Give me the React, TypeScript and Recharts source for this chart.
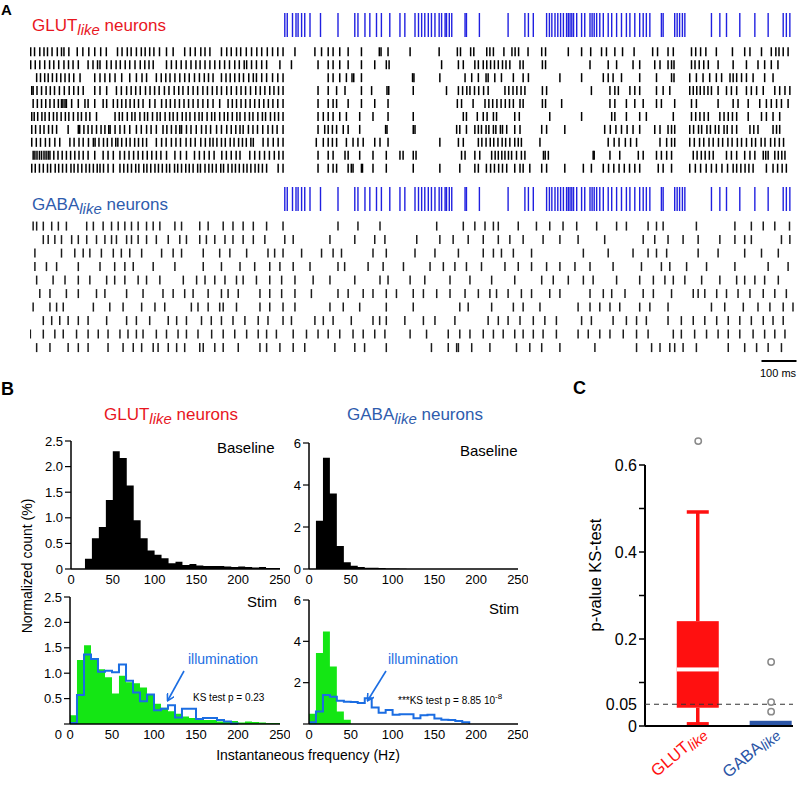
import React from "react";
import {
  ScatterChart,
  Scatter,
  XAxis,
  YAxis,
  ReferenceLine,
  ComposedChart,
  Area,
  Line,
  Bar,
} from "recharts";

const FONT = '"Liberation Sans", Arial, sans-serif';
const RED = "#e8161e";
const GABA_BLUE = "#2f5cad";
const STIM_BLUE = "#2020e0";
const ILLUM = "#1b6de2";
const GREEN = "#14e614";

// ---------- Panel A: light pulses and spike times (ms) ----------
const stimPulses = [
  728, 735, 750, 760, 766, 776, 785, 800, 830, 880, 928, 937, 957, 971, 990, 1004, 1028, 1057,
  1071, 1100, 1110, 1119, 1128, 1138, 1147, 1157, 1169, 1176, 1186, 1190, 1198, 1205, 1243, 1247,
  1284, 1366, 1414, 1424, 1438, 1476, 1484, 1491, 1500, 1508, 1516, 1524, 1533, 1538, 1543, 1548,
  1553, 1562, 1576, 1585, 1600, 1606, 1612, 1619, 1628, 1638, 1652, 1662, 1676, 1690, 1704, 1714,
  1728, 1742, 1752, 1761, 1771, 1804, 1809, 1842, 1849, 1856, 1864, 1871, 1947, 1971, 1990, 2028,
  2071, 2109, 2152, 2161, 2171,
];

const glutRow1 = [
  2, 13, 28, 40, 50, 63, 78, 90, 97, 111, 135, 151, 168, 185, 202, 218, 250, 263, 278, 289, 304,
  318, 329, 342, 354, 370, 390, 409, 442, 458, 472, 488, 500, 514, 547, 562, 575, 590, 602, 618,
  633, 648, 662, 678, 693, 708, 723, 757, 814, 833, 852, 866, 885, 909, 947, 998, 1003, 1023, 1086,
  1169, 1221, 1230, 1259, 1268, 1305, 1314, 1324, 1354, 1377, 1386, 1396, 1423, 1462, 1473, 1538,
  1576, 1602, 1633, 1647, 1671, 1693, 1726, 1779, 1793, 1823, 1838, 1890, 1902, 1916, 1931, 1961,
  2007, 2042, 2057, 2090, 2118, 2131, 2140, 2152, 2166,
];
const glutRow2 = [
  2, 15, 28, 42, 56, 68, 82, 97, 110, 123, 138, 166, 180, 193, 200, 219, 232, 246, 258, 272, 285,
  300, 315, 328, 340, 352, 390, 404, 418, 432, 446, 460, 474, 486, 500, 514, 528, 542, 556, 570,
  585, 598, 612, 619, 633, 647, 662, 676, 714, 747, 823, 852, 866, 885, 909, 947, 985, 1018, 1026,
  1176, 1224, 1238, 1271, 1281, 1295, 1305, 1316, 1327, 1338, 1350, 1360, 1371, 1400, 1409, 1464,
  1473, 1600, 1652, 1676, 1723, 1742, 1785, 1800, 1823, 1833, 1840, 1890, 1900, 1912, 1925, 1938,
  1966, 2009, 2047, 2080, 2099, 2118, 2137,
];
const glutRow3 = [
  19, 30, 42, 52, 64, 76, 88, 100, 112, 125, 143, 185, 200, 214, 228, 243, 262, 285, 304, 320, 333,
  361, 375, 388, 400, 414, 428, 442, 455, 470, 484, 498, 510, 523, 547, 560, 572, 585, 598, 610,
  625, 638, 647, 662, 676, 693, 708, 723, 852, 866, 885, 904, 920, 925, 947, 1093, 1097, 1171, 1243,
  1262, 1281, 1303, 1309, 1328, 1347, 1381, 1409, 1424, 1514, 1576, 1638, 1652, 1666, 1690, 1742,
  1790, 1833, 1840, 1885, 1904, 1923, 1942, 1961, 1976, 2000, 2009, 2019, 2033, 2047, 2066, 2099,
  2123,
];
const glutRow4 = [
  5, 9, 20, 33, 46, 58, 70, 84, 98, 112, 125, 138, 152, 185, 200, 219, 247, 261, 276, 289, 302, 315,
  330, 343, 356, 369, 384, 397, 412, 425, 437, 452, 466, 479, 494, 507, 521, 534, 547, 562, 575,
  590, 603, 616, 630, 645, 658, 671, 685, 697, 710, 723, 823, 852, 876, 900, 947, 976, 1020, 1025,
  1095, 1190, 1224, 1236, 1248, 1257, 1270, 1282, 1296, 1309, 1357, 1368, 1380, 1391, 1403, 1414,
  1464, 1476, 1604, 1657, 1671, 1681, 1714, 1728, 1742, 1790, 1809, 1828, 1885, 1895, 1905, 1915,
  1926, 1937, 1947, 1966, 1990, 2004, 2019, 2047, 2061, 2076, 2095, 2128, 2142, 2157, 2171,
];
const glutRow5 = [
  9, 21, 33, 45, 57, 69, 81, 90, 94, 100, 104, 119, 138, 157, 166, 185, 209, 219, 238, 250, 262,
  274, 286, 298, 310, 323, 342, 357, 376, 389, 401, 414, 427, 440, 453, 466, 480, 494, 508, 523,
  542, 566, 578, 590, 603, 616, 629, 642, 655, 668, 681, 694, 708, 723, 823, 852, 866, 876, 909,
  947, 985, 1023, 1221, 1233, 1266, 1300, 1311, 1322, 1334, 1346, 1358, 1370, 1381, 1400, 1409,
  1464, 1473, 1519, 1657, 1671, 1704, 1728, 1752, 1790, 1804, 1842, 1890, 1904, 1966, 2009, 2023,
  2052, 2085, 2104, 2118, 2133, 2147, 2166,
];
const glutRow6 = [
  5, 12, 22, 34, 43, 55, 67, 77, 89, 101, 111, 124, 137, 147, 160, 171, 190, 243, 255, 264, 278,
  291, 300, 314, 327, 336, 350, 363, 372, 386, 399, 409, 421, 435, 446, 457, 471, 483, 492, 506,
  519, 528, 542, 555, 565, 578, 591, 600, 614, 627, 637, 651, 664, 673, 687, 699, 710, 723, 823,
  838, 852, 866, 885, 904, 942, 980, 1023, 1095, 1238, 1247, 1278, 1295, 1306, 1324, 1333, 1385,
  1398, 1485, 1576, 1662, 1671, 1704, 1742, 1761, 1838, 1890, 1902, 1914, 1926, 1938, 1971, 1983,
  1995, 2007, 2019, 2052, 2090, 2104, 2123, 2142,
];
const glutRow7 = [
  5, 16, 29, 40, 53, 64, 76, 109, 138, 142, 154, 166, 177, 190, 203, 214, 225, 229, 243, 257, 270,
  285, 304, 318, 333, 346, 361, 380, 391, 404, 417, 428, 433, 447, 460, 475, 490, 503, 516, 533,
  547, 562, 575, 588, 600, 609, 624, 637, 650, 665, 680, 693, 706, 723, 823, 842, 852, 864, 876,
  895, 909, 942, 1016, 1020, 1095, 1100, 1219, 1228, 1247, 1271, 1281, 1290, 1303, 1311, 1324, 1331,
  1344, 1350, 1362, 1385, 1400, 1462, 1476, 1528, 1642, 1658, 1674, 1690, 1706, 1723, 1742, 1785,
  1800, 1823, 1833, 1842, 1885, 1896, 1910, 1919, 1934, 1944, 1958, 1968, 1983, 1992, 2006, 2019,
  2057, 2068, 2080, 2123, 2133, 2142,
];
const glutRow8 = [
  5, 18, 30, 44, 56, 71, 85, 114, 126, 140, 152, 167, 181, 186, 197, 210, 221, 234, 245, 251, 262,
  275, 286, 299, 310, 322, 333, 361, 376, 389, 404, 417, 430, 446, 459, 472, 488, 501, 514, 523,
  534, 547, 558, 572, 583, 596, 607, 618, 631, 638, 666, 680, 695, 709, 723, 818, 838, 852, 864,
  876, 904, 923, 937, 952, 985, 1000, 1023, 1171, 1224, 1238, 1281, 1291, 1303, 1315, 1325, 1337,
  1349, 1359, 1371, 1385, 1395, 1404, 1457, 1652, 1669, 1683, 1701, 1716, 1733, 1800, 1819, 1833,
  1842, 1885, 1898, 1913, 1925, 1940, 1952, 1967, 1979, 1994, 2006, 2021, 2033, 2047, 2062, 2073,
  2089, 2100, 2116, 2128, 2141, 2153,
];
const glutRow9 = [
  9, 14, 20, 27, 33, 40, 46, 52, 57, 68, 80, 92, 104, 116, 128, 140, 152, 166, 185, 209, 223, 238,
  257, 270, 283, 296, 309, 322, 335, 348, 361, 374, 390, 414, 430, 447, 470, 484, 498, 512, 526,
  548, 561, 575, 589, 600, 628, 642, 656, 670, 684, 698, 711, 723, 823, 852, 866, 900, 909, 942,
  980, 1018, 1057, 1066, 1095, 1103, 1233, 1243, 1271, 1285, 1319, 1329, 1338, 1348, 1357, 1367,
  1376, 1390, 1404, 1414, 1467, 1472, 1481, 1609, 1612, 1657, 1685, 1738, 1752, 1790, 1804, 1819,
  1833, 1895, 1906, 1918, 1929, 1941, 1952, 1990, 2004, 2019, 2042, 2057, 2071, 2095, 2102, 2109,
  2128, 2138, 2148, 2157,
];
const glutRow10 = [
  5, 15, 27, 38, 50, 59, 72, 82, 93, 104, 117, 126, 137, 148, 160, 170, 181, 192, 200, 210, 223,
  238, 257, 268, 279, 290, 302, 311, 325, 334, 345, 357, 367, 378, 390, 399, 413, 422, 433, 445,
  455, 466, 479, 487, 500, 511, 521, 532, 545, 553, 566, 577, 587, 598, 610, 620, 631, 643, 653,
  664, 676, 709, 723, 823, 852, 866, 876, 909, 918, 923, 947, 950, 980, 1018, 1095, 1171, 1228,
  1271, 1281, 1304, 1316, 1327, 1339, 1350, 1362, 1385, 1400, 1409, 1428, 1462, 1476, 1528, 1581,
  1604, 1638, 1653, 1668, 1683, 1698, 1713, 1728, 1742, 1795, 1809, 1833, 1885, 1901, 1916, 1932,
  1947, 1961, 1977, 1993, 2009, 2019, 2031, 2043, 2054, 2066, 2104, 2123, 2136, 2149, 2161,
];
const glutTrains = [
  glutRow1, glutRow2, glutRow3, glutRow4, glutRow5,
  glutRow6, glutRow7, glutRow8, glutRow9, glutRow10,
];

const gabaRow1 = [
  9, 19, 38, 62, 81, 104, 162, 181, 209, 233, 252, 271, 290, 309, 333, 352, 371, 414, 433, 485, 509,
  552, 580, 609, 638, 676, 723, 880, 937, 1000, 1162, 1238, 1271, 1300, 1324, 1338, 1395, 1447,
  1485, 1523, 1562, 1619, 1676, 1704, 1766, 1790, 1809, 1904, 2014, 2061, 2095, 2128, 2170,
];
const gabaRow2 = [
  38, 52, 71, 90, 119, 138, 162, 190, 214, 233, 247, 276, 290, 309, 333, 361, 395, 428, 447, 485,
  504, 528, 557, 580, 609, 638, 671, 728, 752, 857, 928, 985, 1014, 1105, 1171, 1209, 1252, 1295,
  1338, 1371, 1409, 1466, 1514, 1566, 1642, 1752, 1785, 1823, 1866, 1909, 1971, 2014, 2042, 2061,
  2147, 2171,
];
const gabaRow3 = [
  14, 90, 128, 152, 171, 204, 238, 261, 285, 319, 376, 409, 433, 495, 542, 571, 619, 680, 699, 723,
  776, 833, 866, 890, 980, 1018, 1100, 1157, 1224, 1295, 1324, 1347, 1381, 1433, 1581, 1652, 1723,
  1766, 1790, 1819, 1909, 1966, 2042, 2090, 2138,
];
const gabaRow4 = [
  14, 47, 76, 138, 200, 242, 271, 295, 352, 414, 495, 547, 600, 642, 685, 714, 752, 800, 880, 899,
  966, 1009, 1067, 1143, 1181, 1214, 1247, 1290, 1357, 1395, 1433, 1476, 1514, 1557, 1600, 1666,
  1747, 1804, 1828, 1876, 1933, 2014, 2109, 2166,
];
const gabaRow5 = [
  19, 66, 100, 138, 171, 219, 242, 271, 309, 333, 371, 438, 476, 500, 528, 557, 590, 609, 647, 685,
  719, 757, 809, 857, 928, 1000, 1023, 1086, 1128, 1200, 1257, 1319, 1385, 1462, 1495, 1538, 1581,
  1609, 1676, 1742, 1781, 1814, 1838, 1871, 1919, 1971, 2019, 2042, 2071, 2099, 2138,
];
const gabaRow6 = [
  28, 57, 104, 138, 190, 214, 276, 323, 380, 409, 442, 466, 509, 547, 566, 595, 657, 685, 719, 757,
  804, 880, 909, 952, 980, 1018, 1047, 1095, 1124, 1162, 1200, 1243, 1281, 1314, 1333, 1366, 1404,
  1433, 1485, 1514, 1600, 1638, 1662, 1700, 1752, 1781, 1833, 1895, 1909, 1928, 1962, 1990, 2023,
  2057, 2095, 2128, 2161,
];
const gabaRow7 = [
  9, 57, 76, 95, 181, 228, 266, 319, 357, 385, 461, 480, 509, 542, 552, 590, 657, 685, 723, 757,
  857, 895, 942, 1018, 1095, 1228, 1252, 1319, 1381, 1409, 1457, 1566, 1600, 1628, 1657, 1685,
  1742, 1771, 1823, 1947, 1985, 2038, 2080, 2114, 2152, 2180,
];
const gabaRow8 = [
  38, 62, 85, 109, 138, 166, 219, 276, 304, 342, 395, 419, 447, 490, 518, 547, 580, 614, 652, 680,
  723, 747, 814, 838, 866, 918, 980, 999, 1018, 1071, 1124, 1157, 1214, 1309, 1338, 1366, 1400,
  1438, 1471, 1504, 1576, 1604, 1666, 1704, 1733, 1761, 1823, 1861, 1895, 1928, 1962, 1995, 2028,
  2061, 2095, 2123, 2152,
];
const gabaRow9 = [
  1, 38, 71, 95, 133, 166, 195, 223, 257, 280, 304, 323, 361, 390, 423, 447, 480, 519, 552, 585,
  619, 652, 676, 704, 752, 790, 823, 852, 885, 923, 952, 985, 1014, 1086, 1133, 1195, 1228, 1257,
  1295, 1324, 1352, 1385, 1409, 1438, 1466, 1504, 1566, 1595, 1628, 1657, 1695, 1733, 1766, 1838,
  1861, 1899, 1933, 1966, 1995, 2028, 2066, 2099, 2128, 2157,
];
const gabaRow10 = [
  19, 57, 109, 138, 166, 223, 266, 295, 319, 352, 366, 395, 419, 442, 485, 495, 528, 552, 595, 657,
  676, 714, 752, 785, 871, 928, 956, 1018, 1147, 1195, 1219, 1224, 1262, 1314, 1390, 1428, 1462,
  1514, 1614, 1733, 1776, 1800, 1828, 1842, 1866, 1904, 1995, 2042, 2076, 2109, 2147,
];
const gabaTrains = [
  gabaRow1, gabaRow2, gabaRow3, gabaRow4, gabaRow5,
  gabaRow6, gabaRow7, gabaRow8, gabaRow9, gabaRow10,
];

// ---------- Panel B: histograms (% per 8.3 Hz bin) ----------
const hzEdges = [
  0, 8.3, 16.7, 25, 33.3, 41.7, 50, 58.3, 66.7, 75, 83.3, 91.7, 100, 108.3, 116.7, 125, 133.3,
  141.7, 150, 158.3, 166.7, 175, 183.3, 191.7, 200, 208.3, 216.7, 225, 233.3, 241.7, 250,
];
const glutBaseline = [
  0, 0, 0.2, 0.6, 0.82, 1.35, 2.3, 2.17, 1.63, 0.95, 0.6, 0.36, 0.28, 0.21, 0.11, 0.14, 0.08, 0.1,
  0.07, 0.06, 0.06, 0.06, 0.05, 0.04, 0.05, 0.04, 0.03, 0.04, 0.02, 0.02,
];
const glutStimCtrl = [
  0.17, 1.26, 1.55, 1.3, 1.08, 0.92, 0.6, 0.95, 0.82, 0.8, 0.72, 0.58, 0.4, 0.32, 0.25, 0.2, 0.15,
  0.12, 0.1, 0.08, 0.08, 0.05, 0.04, 0.06, 0.03, 0.05, 0.04, 0.03, 0.02, 0.02,
];
const glutStimIllum = [
  0.02, 0.57, 1.37, 1.28, 1.03, 1.05, 1.02, 1.17, 0.85, 0.62, 0.45, 0.58, 0.27, 0.3, 0.37, 0.13, 0.3,
  0.3, 0.1, 0.12, 0.12, 0.08, 0.05, 0.01, 0, null, null, null, null, null,
];
const gabaBaseline = [
  0, 2.3, 5.3, 3.6, 1.1, 0.32, 0.16, 0.1, 0.06, 0.06, 0.05, 0.02, 0.02, 0.01, 0, 0, 0, 0, 0, 0, 0,
  0, 0, 0, 0, 0, 0, 0, 0, 0,
];
const gabaStimCtrl = [
  0.5, 3.44, 4.47, 2.78, 0.6, 0.2, 0, 0, 0, 0, 0, 0, 0, 0, 0, 0, 0, 0, 0, 0, 0, 0, 0, 0, 0, 0, 0, 0,
  0, 0,
];
const gabaStimIllum = [
  0.08, 0.6, 1.4, 1.32, 1.12, 1.08, 1.07, 1.02, 1.25, 0.8, 0.55, 0.68, 0.45, 0.47, 0.47, 0.28, 0.42,
  0.45, 0.27, 0.2, 0.19, 0.15, 0.08, 0, null, null, null, null, null, null,
];

// ---------- Panel C: KS-test p-values ----------
const groupIds = [1, 2];
const groupNames = ["GLUT", "GABA"];
const groupColors = ["#ff1010", "#2b55a6"];
const q1s = [0.042, 0];
const medians = [0.13, null];
const q3s = [0.241, 0.012];
const whiskerLows = [0.005, 0];
const whiskerHighs = [0.492, 0.012];
const outlierGroup = [1, 2, 2, 2];
const outlierP = [0.655, 0.147, 0.055, 0.033];
const pTicks = [0, 0.05, 0.1, 0.2, 0.3, 0.4, 0.5, 0.6];
const pLabels = ["0", "0.05", "", "0.2", "", "0.4", "", "0.6"];

const spikeMark = (h: number, color: string, w: number) => (p: any) => (
  <line x1={p.cx} x2={p.cx} y1={p.cy - h / 2} y2={p.cy + h / 2} stroke={color} strokeWidth={w} />
);

function Raster({ trains, top, height, domain, h, color, w, children }: any) {
  const spikes = trains.flatMap((tr: number[], row: number) => tr.map((t) => ({ t, row })));
  return (
    <div style={{ position: "absolute", left: 30, top }}>
      <ScatterChart width={770} height={height} margin={{ top: 0, right: 0, bottom: 0, left: 0 }}>
        <XAxis type="number" dataKey="t" domain={[0, 2200]} hide />
        <YAxis type="number" dataKey="row" domain={domain} reversed hide />
        <Scatter data={spikes} shape={spikeMark(h, color, w)} isAnimationActive={false} />
        {children}
      </ScatterChart>
    </div>
  );
}

const yTick = (fmt: (v: number) => string, zeroShift: number) => (p: any) => {
  const v = p.payload.value;
  return (
    <text
      x={p.x}
      y={p.y + (v === 0 ? zeroShift : 0)}
      dy="0.36em"
      textAnchor="end"
      fontSize={13}
      fontFamily={FONT}
      fill="#000"
    >
      {fmt(v)}
    </text>
  );
};

const fmtGlut = (v: number) => (v === 0 ? "0" : v.toFixed(1));
const fmtGaba = (v: number) => String(v);
const fmtGabaNoZero = (v: number) => (v === 0 ? "" : String(v));

function Hist({ left, top, width, height, yMax, yTicks, fmt, zeroShift, fill, ctrl, illum }: any) {
  const rows = hzEdges.map((hz, i) => ({
    hz,
    ctrl: ctrl[i] ?? 0,
    illum: illum ? (i < illum.length ? illum[i] : null) : null,
  }));
  return (
    <div style={{ position: "absolute", left, top }}>
      <ComposedChart
        width={width}
        height={height}
        data={rows}
        margin={{ top: 11, right: 10, bottom: 0, left: 0 }}
      >
        <XAxis
          type="number"
          dataKey="hz"
          domain={[0, 250]}
          ticks={[0, 50, 100, 150, 200, 250]}
          interval={0}
          height={22}
          tickLine={false}
          tickSize={0}
          tickMargin={6}
          axisLine={{ stroke: "#000", strokeWidth: 1.5 }}
          tick={{ fontSize: 13, fill: "#000", fontFamily: FONT }}
        />
        <YAxis
          type="number"
          domain={[0, yMax]}
          ticks={yTicks}
          interval={0}
          width={51}
          tickSize={6}
          tickMargin={2}
          axisLine={{ stroke: "#000", strokeWidth: 1.5 }}
          tickLine={{ stroke: "#000", strokeWidth: 1.2 }}
          tick={yTick(fmt, zeroShift)}
        />
        <Area
          type="stepAfter"
          dataKey="ctrl"
          fill={fill}
          fillOpacity={1}
          stroke="none"
          isAnimationActive={false}
        />
        {illum && (
          <Line
            type="stepAfter"
            dataKey="illum"
            stroke={ILLUM}
            strokeWidth={2}
            dot={false}
            isAnimationActive={false}
          />
        )}
      </ComposedChart>
    </div>
  );
}

const BoxShape = (p: any) => {
  const { x, y, width, height, payload, index } = p;
  const [lo, hi] = payload.box;
  const k = height / (hi - lo);
  const py = (v: number) => y + (hi - v) * k;
  const cx = x + width / 2;
  const color = groupColors[index];
  return (
    <g>
      {payload.wHi > hi && (
        <g stroke={color} strokeWidth={3.5}>
          <line x1={cx} x2={cx} y1={y} y2={py(payload.wHi)} />
          <line x1={cx - 11} x2={cx + 11} y1={py(payload.wHi)} y2={py(payload.wHi)} />
        </g>
      )}
      {payload.wLo < lo && (
        <g stroke={color} strokeWidth={3.5}>
          <line x1={cx} x2={cx} y1={y + height} y2={py(payload.wLo)} />
          <line x1={cx - 11} x2={cx + 11} y1={py(payload.wLo)} y2={py(payload.wLo)} />
        </g>
      )}
      <rect x={x} y={y} width={width} height={height} fill={color} />
      {payload.median != null && (
        <rect x={x} y={py(payload.median) - 2} width={width} height={4} fill="#fff" />
      )}
    </g>
  );
};

const outlierMark = (p: any) => (
  <circle cx={p.cx} cy={p.cy} r={3.2} fill="#fff" stroke="#8a8a8a" strokeWidth={1.5} />
);

const pTick = (p: any) => {
  const v = p.payload.value;
  const i = pTicks.indexOf(v);
  return (
    <g>
      {v !== 0.05 && <line x1={p.x - 6} x2={p.x} y1={p.y} y2={p.y} stroke="#000" strokeWidth={1.5} />}
      <text
        x={p.x - 8}
        y={p.y}
        dy="0.36em"
        textAnchor="end"
        fontSize={16}
        fontFamily={FONT}
        fill="#000"
      >
        {pLabels[i]}
      </text>
    </g>
  );
};

const groupTick = (p: any) => {
  const i = groupIds.indexOf(p.payload.value);
  return (
    <text
      transform={`translate(${p.x + 9},${p.y + 9}) rotate(-40)`}
      textAnchor="end"
      fontSize={16.5}
      fontFamily={FONT}
      fill={groupColors[i]}
    >
      {groupNames[i]}
      <tspan fontStyle="italic" fontSize={14.5} dy={3}>
        like
      </tspan>
    </text>
  );
};

function BoxPanel() {
  const boxRows = groupIds.map((g, i) => ({
    g,
    box: [q1s[i], q3s[i]],
    median: medians[i],
    wLo: whiskerLows[i],
    wHi: whiskerHighs[i],
  }));
  const outliers = outlierGroup.map((g, i) => ({ g, p: outlierP[i] }));
  return (
    <div style={{ position: "absolute", left: 560, top: 380 }}>
      <ComposedChart
        width={239}
        height={406}
        data={boxRows}
        margin={{ top: 41.5, right: 6, bottom: 0, left: 0 }}
      >
        <XAxis
          type="number"
          dataKey="g"
          domain={[0.27, 2.3]}
          ticks={groupIds}
          interval={0}
          height={60}
          tickLine={false}
          tickSize={0}
          tickMargin={0}
          axisLine={{ stroke: "#000", strokeWidth: 2 }}
          tick={groupTick}
        />
        <YAxis
          type="number"
          domain={[0, 0.7]}
          ticks={pTicks}
          interval={0}
          width={85}
          axisLine={false}
          tickLine={false}
          tickSize={0}
          tickMargin={0}
          tick={pTick}
        />
        <ReferenceLine
          segment={[
            { x: 0.27, y: 0 },
            { x: 0.27, y: 0.6 },
          ]}
          stroke="#000"
          strokeWidth={2}
        />
        <ReferenceLine y={0.05} stroke="#333" strokeDasharray="5 4" strokeWidth={1.2} />
        <Bar dataKey="box" barSize={42} shape={BoxShape} isAnimationActive={false} />
        <Scatter data={outliers} dataKey="p" shape={outlierMark} isAnimationActive={false} />
      </ComposedChart>
    </div>
  );
}

const Title = ({ x, y, name, color }: any) => (
  <text x={x} y={y} fill={color} fontSize={17} fontFamily={FONT}>
    {name}
    <tspan fontStyle="italic" fontSize={15} dy={4}>
      like
    </tspan>
    <tspan dy={-4}> neurons</tspan>
  </text>
);

export default function App() {
  return (
    <div
      style={{
        position: "absolute",
        left: 0,
        top: 0,
        width: 799,
        height: 786,
        overflow: "hidden",
        background: "#fff",
      }}
    >
      {/* Panel A */}
      <Raster trains={[stimPulses]} top={13} height={24} domain={[-0.5, 0.5]} h={24} color={STIM_BLUE} w={1.4} />
      <Raster trains={glutTrains} top={44} height={132} domain={[-0.6, 9.6]} h={9} color="#000" w={1.5} />
      <Raster trains={[stimPulses]} top={187} height={24} domain={[-0.5, 0.5]} h={24} color={STIM_BLUE} w={1.4} />
      <Raster trains={gabaTrains} top={218} height={148.5} domain={[-0.6, 10.4]} h={9} color="#1c1c1c" w={1.5}>
        <ReferenceLine
          segment={[
            { x: 2090, y: 10 },
            { x: 2190, y: 10 },
          ]}
          stroke="#000"
          strokeWidth={2}
        />
      </Raster>

      {/* Panel B */}
      <Hist left={20} top={430} width={270} height={161} yMax={2.5}
        yTicks={[0, 0.5, 1, 1.5, 2, 2.5]} fmt={fmtGlut} zeroShift={0} fill="#000" ctrl={glutBaseline} />
      <Hist left={19} top={586} width={271} height={160} yMax={2.5}
        yTicks={[0, 0.5, 1, 1.5, 2, 2.5]} fmt={fmtGlut} zeroShift={10} fill={GREEN}
        ctrl={glutStimCtrl} illum={glutStimIllum} />
      <Hist left={258} top={432} width={270} height={159} yMax={6}
        yTicks={[0, 2, 4, 6]} fmt={fmtGaba} zeroShift={0} fill="#000" ctrl={gabaBaseline} />
      <Hist left={258} top={589} width={270} height={157} yMax={6}
        yTicks={[0, 2, 4, 6]} fmt={fmtGabaNoZero} zeroShift={0} fill={GREEN}
        ctrl={gabaStimCtrl} illum={gabaStimIllum} />

      {/* Panel C */}
      <BoxPanel />

      <svg
        width={799}
        height={786}
        style={{ position: "absolute", left: 0, top: 0, pointerEvents: "none" }}
      >
        <defs>
          <marker id="arrowHead" markerWidth="8" markerHeight="8" refX="6" refY="4" orient="auto" markerUnits="userSpaceOnUse">
            <path d="M0,0 L7,4 L0,8" fill="none" stroke={ILLUM} strokeWidth={1.6} />
          </marker>
        </defs>
        <g fontFamily={FONT}>
          <text x={1} y={15} fontSize={15} fontWeight="bold">A</text>
          <Title x={32} y={31} name="GLUT" color={RED} />
          <Title x={32} y={210} name="GABA" color={GABA_BLUE} />
          <text x={760} y={377} fontSize={11}>100 ms</text>

          <text x={1} y={395} fontSize={18} fontWeight="bold">B</text>
          <Title x={104} y={420} name="GLUT" color={RED} />
          <Title x={347} y={420} name="GABA" color={GABA_BLUE} />
          <text x={217} y={453} fontSize={15}>Baseline</text>
          <text x={460} y={456} fontSize={15}>Baseline</text>
          <text x={247} y={607} fontSize={15}>Stim</text>
          <text x={489} y={614} fontSize={15}>Stim</text>
          <text x={188} y={664} fontSize={14} fill={ILLUM}>illumination</text>
          <text x={388} y={664} fontSize={14} fill={ILLUM}>illumination</text>
          <line x1={184} y1={671} x2={168} y2={700} stroke={ILLUM} strokeWidth={1.6} markerEnd="url(#arrowHead)" />
          <line x1={386} y1={671} x2={368} y2={700} stroke={ILLUM} strokeWidth={1.6} markerEnd="url(#arrowHead)" />
          <text x={193} y={701} fontSize={10}>KS test p = 0.23</text>
          <text x={398} y={704} fontSize={10}>
            ***KS test p = 8.85 10
            <tspan dy={-5} fontSize={8}>-8</tspan>
          </text>
          <text transform="translate(32,566) rotate(-90)" textAnchor="middle" fontSize={14}>
            Normalized count (%)
          </text>
          <text x={308} y={760} textAnchor="middle" fontSize={14}>
            Instantaneous frequency (Hz)
          </text>

          <text x={573} y={394} fontSize={18} fontWeight="bold">C</text>
          <text transform="translate(601,575) rotate(-90)" textAnchor="middle" fontSize={16.5}>
            p-value KS-test
          </text>
        </g>
      </svg>
    </div>
  );
}
